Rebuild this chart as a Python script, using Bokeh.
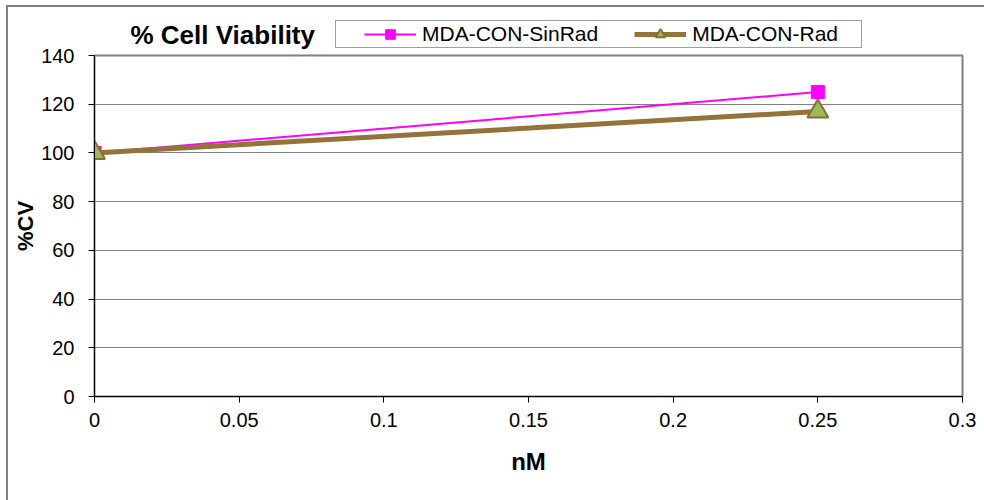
from bokeh.plotting import figure
from bokeh.models import Legend, LegendItem, FixedTicker, Label, Range1d
from bokeh.layouts import column
from bokeh.embed import file_html
from bokeh.resources import INLINE

# ---- data ----
x_nm = [0, 0.25]
sinrad = [100, 125]
rad = [100, 117]
series_names = ["MDA-CON-SinRad", "MDA-CON-Rad"]
x_ticks = [0, 0.05, 0.1, 0.15, 0.2, 0.25, 0.3]
x_tick_labels = ["0", "0.05", "0.1", "0.15", "0.2", "0.25", "0.3"]
y_ticks = [0, 20, 40, 60, 80, 100, 120, 140]
title_text = "% Cell Viability"

FONT = "Liberation Sans"
C_SIN = "#FF00FF"
C_RAD = "#937339"
C_RAD_FILL = "#9BBB59"
C_RAD_EDGE = "#8B6D36"


def add_series(fig):
    l1 = fig.line(x_nm, sinrad, line_color=C_SIN, line_width=2)
    m1 = fig.scatter(x_nm, sinrad, marker="square", size=13, fill_color=C_SIN, line_color=C_SIN)
    l2 = fig.line(x_nm, rad, line_color=C_RAD, line_width=5)
    m2 = fig.scatter(x_nm, rad, marker="triangle", size=21, fill_color=C_RAD_FILL,
                     line_color=C_RAD_EDGE, line_width=2)
    return l1, m1, l2, m2


FRAME_LEFT = 94
HEAD_H = 53
OVERLAP = 12

# ---- header (title + legend) ----
head = figure(width=984, height=HEAD_H, output_backend="svg", toolbar_location=None,
              x_axis_type=None, y_axis_type=None,
              x_range=Range1d(-10, -9), y_range=Range1d(-10, -9),
              min_border_left=FRAME_LEFT, min_border_right=22, min_border_top=0, min_border_bottom=0)
head.outline_line_color = None
head.background_fill_alpha = 0
head.border_fill_alpha = 0
for g in head.grid:
    g.visible = False
hl1, hm1, hl2, hm2 = add_series(head)   # off-range: used for legend glyphs only

head.add_layout(Label(x=130 - FRAME_LEFT, y=HEAD_H - 34, x_units="screen", y_units="screen",
                      text=title_text, text_font=FONT, text_font_size="26px",
                      text_font_style="bold", text_color="black", text_baseline="middle"))

legend = Legend(items=[LegendItem(label=series_names[0], renderers=[hl1, hm1]),
                       LegendItem(label=series_names[1], renderers=[hl2, hm2])],
                location=(335 - FRAME_LEFT, HEAD_H - 48), orientation="horizontal")
legend.title = " "
legend.title_location = "left"
legend.title_standoff = 3
legend.title_text_font = FONT
legend.title_text_font_size = "21px"
legend.label_text_font = FONT
legend.label_text_font_size = "21px"
legend.label_text_color = "black"
legend.glyph_width = 52
legend.glyph_height = 24
legend.label_standoff = 6
legend.label_width = 168
legend.spacing = 36
legend.padding = 1
legend.margin = 0
legend.border_line_color = "#404040"
legend.border_line_width = 1
legend.background_fill_color = "white"
legend.background_fill_alpha = 1
head.add_layout(legend, "center")

# ---- main plot ----
p = figure(width=984, height=500 - HEAD_H + OVERLAP, output_backend="svg", toolbar_location=None,
           x_range=(0, 0.3), y_range=(0, 140),
           min_border_left=FRAME_LEFT, min_border_right=22, min_border_top=2 + OVERLAP,
           min_border_bottom=104)
p.styles = {"margin-top": f"-{OVERLAP}px"}
p.background_fill_color = "white"
p.border_fill_alpha = 0
p.outline_line_color = "#808080"
p.outline_line_width = 2

for ax in (p.xaxis[0], p.yaxis[0]):
    ax.axis_line_color = "black"
    ax.axis_line_width = 1
    ax.major_tick_line_color = "black"
    ax.major_tick_in = 0
    ax.major_tick_out = 6
    ax.minor_tick_line_color = None
    ax.major_label_text_font = FONT
    ax.major_label_text_font_size = "20px"
    ax.major_label_text_color = "black"
    ax.axis_label_text_font = FONT
    ax.axis_label_text_font_style = "bold"
    ax.axis_label_text_color = "black"

p.xaxis.ticker = FixedTicker(ticks=x_ticks)
p.xaxis.major_label_overrides = dict(zip(x_ticks, x_tick_labels))
p.yaxis.ticker = FixedTicker(ticks=y_ticks)
p.xaxis.axis_label = "nM"
p.yaxis.axis_label = "%CV"
p.xaxis.axis_label_text_font_size = "24px"
p.yaxis.axis_label_text_font_size = "22px"
p.xaxis.major_label_standoff = 10
p.xaxis.axis_label_standoff = 18
p.yaxis.major_label_standoff = 14
p.yaxis.axis_label_standoff = 0

p.xgrid.grid_line_color = None
p.ygrid.grid_line_color = "#808080"
p.ygrid.grid_line_width = 1

add_series(p)

layout = column(head, p, spacing=0)
layout.styles = {
    "background": "linear-gradient(#808080, #808080) 6px 5px / 2px 100% no-repeat, "
                  "linear-gradient(#808080, #808080) 6px 5px / 100% 2px no-repeat, white"
}

open("out.html", "w").write(file_html(layout, INLINE))
